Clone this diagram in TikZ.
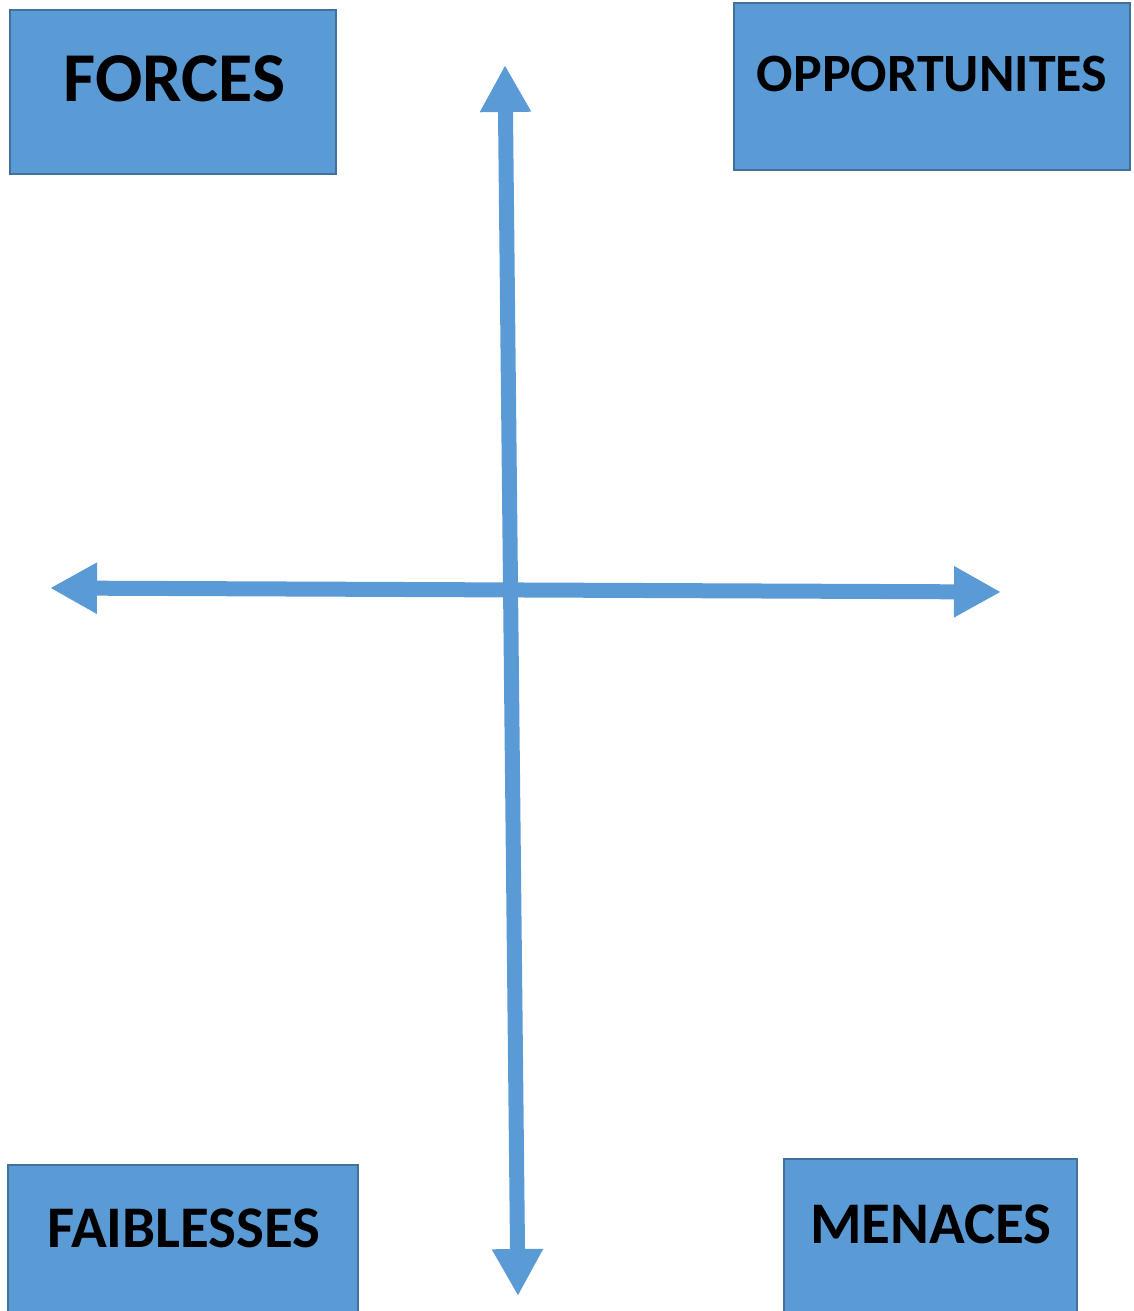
\documentclass[tikz,border=0pt]{standalone}
\usepackage{fontspec}
\setmainfont{Carlito}
\usetikzlibrary{arrows.meta}
\definecolor{fillblue}{HTML}{5B9BD5}
\definecolor{edgeblue}{HTML}{41719C}
\tikzset{
  swotbox/.style={draw=edgeblue, fill=fillblue, line width=2pt},
  swotlabel/.style={anchor=base, inner sep=0pt, font=\bfseries},
  axisarrow/.style={draw=fillblue, line width=15pt,
    {Triangle[width=48pt,length=47pt]}-{Triangle[width=48pt,length=47pt]}}
}
\begin{document}
\begin{tikzpicture}[x=1pt,y=-1pt]
\useasboundingbox (0,0) rectangle (1133,1311);
% boxes
\draw[swotbox] (10,10) rectangle (336,174);
\draw[swotbox] (734,3) rectangle (1130,170);
\draw[swotbox] (8,1165) rectangle (358,1330);
\draw[swotbox] (784,1159) rectangle (1077,1330);
% labels
\node[swotlabel, font=\bfseries\fontsize{70}{80}\selectfont] (forces) at (174.5,102) {FORCES};
\node[swotlabel, font=\bfseries\fontsize{54}{64}\selectfont] (opp) at (932,92) {OPPORTUNITES};
\node[swotlabel, font=\bfseries\fontsize{59}{69}\selectfont] (faib) at (184,1247) {FAIBLESSES};
\node[swotlabel, font=\bfseries\fontsize{59}{69}\selectfont] (men) at (931,1243) {MENACES};
% axes
\coordinate (top) at (505,65);
\coordinate (bottom) at (518,1296);
\coordinate (left) at (50,588);
\coordinate (right) at (1001,592);
\draw[axisarrow] (top) -- (bottom);
\draw[axisarrow] (left) -- (right);
\end{tikzpicture}
\end{document}
